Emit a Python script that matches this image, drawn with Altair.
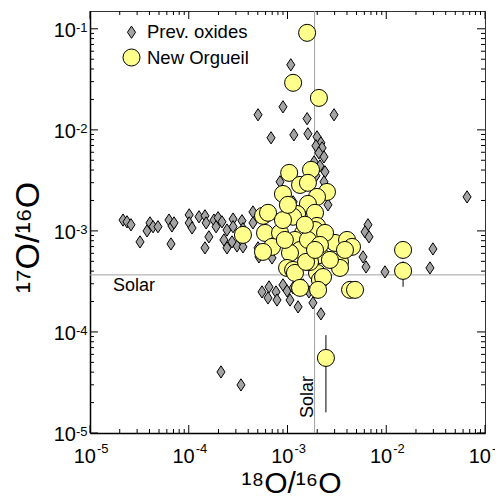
import altair as alt
import pandas as pd

# ---- Previous oxides (grey diamonds): 18O/16O and 17O/16O ----
ox_x = [2.16e-5, 2.37e-5, 2.60e-5, 3.21e-5, 3.78e-5, 4.05e-5, 4.35e-5, 4.88e-5, 6.31e-5, 6.76e-5,
        7.09e-5, 6.61e-5, 1.01e-4, 1.01e-4, 1.08e-4, 1.27e-4, 1.46e-4, 1.50e-4, 1.46e-4, 1.60e-4,
        1.80e-4, 1.98e-4, 2.17e-4, 2.27e-4, 2.44e-4, 2.44e-4, 2.81e-4, 2.81e-4, 3.08e-4, 3.46e-4,
        3.54e-4, 3.54e-4, 4.47e-4, 4.47e-4, 5.03e-4, 5.14e-4, 6.20e-4, 6.97e-4, 1.89e-4, 2.74e-4,
        8.4e-4, 1.14e-3, 2.57e-3,
        1.99e-3, 2.18e-3, 1.94e-3, 2.24e-3, 2.08e-3, 2.34e-3, 1.86e-3, 2.13e-3, 2.40e-3, 1.94e-3,
        2.34e-3, 2.24e-3,
        1.08e-3, 9.0e-4, 5.03e-4, 1.58e-3, 2.96e-3, 6.81e-4, 1.16e-3, 1.61e-3,
        6.53e-3, 6.10e-3, 6.69e-3, 5.82e-3, 6.24e-3, 9.71e-3, 2.97e-2, 2.77e-2, 6.58e-2,
        6.50e-4, 6.35e-4, 7.65e-4, 7.83e-4, 9.0e-4, 9.9e-4, 1.14e-3, 1.28e-3, 1.44e-3, 1.81e-3,
        2.18e-3, 2.12e-4, 3.38e-4, 5.52e-4, 1.65e-3, 1.06e-3]
ox_y = [1.28e-3, 1.23e-3, 1.15e-3, 7.78e-4, 1.00e-3, 1.20e-3, 1.10e-3, 1.10e-3, 1.28e-3, 1.12e-3,
        1.20e-3, 7.43e-4, 1.44e-3, 1.20e-3, 1.07e-3, 1.38e-3, 1.41e-3, 1.20e-3, 6.79e-4, 8.73e-4,
        1.28e-3, 1.35e-3, 1.23e-3, 8.14e-4, 1.02e-3, 6.79e-4, 1.31e-3, 1.10e-3, 7.10e-4, 1.26e-3,
        1.05e-3, 6.95e-4, 1.54e-3, 1.20e-3, 6.79e-4, 5.53e-4, 6.20e-4, 5.40e-4, 1.10e-3, 7.78e-4,
        3.06e-3, 1.94e-3, 1.81e-3,
        8.53e-3, 7.43e-3, 6.95e-3, 6.63e-3, 5.92e-3, 5.40e-3, 4.82e-3, 4.40e-3, 3.84e-3, 3.51e-3,
        3.06e-3, 2.27e-3,
        4.40e-2, 1.69e-2, 1.41e-2, 1.29e-2, 1.41e-2, 8.34e-3, 8.92e-3, 9.13e-3,
        1.15e-3, 9.77e-4, 8.73e-4, 5.53e-4, 4.40e-4, 3.93e-4, 6.63e-4, 4.30e-4, 2.17e-3,
        2.79e-4, 2.17e-4, 2.49e-4, 2.07e-4, 2.92e-4, 2.55e-4, 2.73e-4, 1.77e-4, 2.92e-4, 1.94e-4,
        1.51e-4, 4.02e-5, 2.99e-5, 2.49e-4, 2.49e-4, 2.07e-4]

# ---- New Orgueil grains (yellow circles) ----
org_x = [1.58e-3, 1.14e-3, 2.08e-3, 1.04e-3, 1.73e-3, 1.34e-3, 1.61e-3, 2.51e-3, 9.0e-4, 1.99e-3,
         1.61e-3, 1.25e-3, 1.14e-3, 1.90e-3, 5.65e-4, 6.35e-4, 3.54e-4, 5.92e-4, 8.4e-4, 1.44e-3,
         1.99e-3, 1.90e-3, 6.97e-4, 1.19e-3, 1.34e-3, 1.06e-3, 2.13e-3, 3.03e-3, 4.01e-3, 4.50e-3,
         3.40e-3, 5.65e-4, 9.9e-4, 1.14e-3, 1.19e-3, 1.99e-3, 2.13e-3, 2.29e-3, 3.40e-3, 4.30e-3,
         4.83e-3, 1.48e-2, 1.48e-2, 2.45e-3, 1.34e-3, 2.04e-3, 1.61e-3, 2.40e-3, 2.69e-3, 1.69e-3,
         9.0e-4, 2.13e-3, 1.50e-3, 1.01e-3, 3.82e-3, 1.54e-3, 1.90e-3, 9.4e-4]
org_y = [9.12e-2, 2.92e-2, 2.07e-2, 3.75e-3, 4.02e-3, 2.85e-3, 2.99e-3, 2.43e-3, 2.32e-3, 2.17e-3,
         1.85e-3, 1.47e-3, 1.38e-3, 1.51e-3, 1.41e-3, 1.51e-3, 9.13e-4, 9.55e-4, 9.55e-4, 9.55e-4,
         1.12e-3, 1.02e-3, 6.95e-4, 8.14e-4, 6.48e-4, 6.05e-4, 5.78e-4, 7.60e-4, 8.14e-4, 6.95e-4,
         4.93e-4, 6.20e-4, 4.30e-4, 4.11e-4, 3.84e-4, 3.84e-4, 3.27e-4, 3.50e-4, 4.30e-4, 2.61e-4,
         2.61e-4, 6.48e-4, 4.02e-4, 5.53e-5, 2.73e-4, 2.61e-4, 8.14e-4, 9.55e-4, 5.16e-4, 4.93e-4,
         1.28e-3, 7.27e-4, 1.15e-3, 1.81e-3, 6.48e-4, 4.93e-4, 6.48e-4, 8.14e-4]

# ---- error bars visible in the figure ----
eb_x = [2.45e-3, 1.48e-2]
eb_lo = [1.6e-5, 2.8e-4]
eb_hi = [9.3e-5, 5.0e-4]

# ---- solar reference values ----
solar_x = 1.88e-3
solar_y = 3.67e-4

series_names = ["Prev. oxides", "New Orgueil"]
decades = [1e-5, 1e-4, 1e-3, 1e-2, 1e-1]
tick_base = ["10", "10", "10", "10", "10"]
tick_exp = ["-5", "-4", "-3", "-2", "-1"]
minor = [m * d for d in [1e-5, 1e-4, 1e-3, 1e-2] for m in range(2, 10)]

W, H = 395, 422
FONT = "Liberation Sans"

xscale = alt.Scale(type="log", domain=[1e-5, 1e-1], nice=False)
yscale = alt.Scale(type="log", domain=[1e-5, 0.15], nice=False)

df = pd.DataFrame({
    "x": ox_x + org_x,
    "y": ox_y + org_y,
    "series": [series_names[0]] * len(ox_x) + [series_names[1]] * len(org_x),
})

diamond_path = "M0,-1L0.66,0L0,1L-0.66,0Z"

points = alt.Chart(df).mark_point(filled=True, opacity=1, stroke="black", strokeWidth=1).encode(
    x=alt.X("x:Q", scale=xscale,
            axis=alt.Axis(values=decades, labels=False, ticks=False, grid=False,
                          title="\u00b9\u2078O/\u00b9\u2076O", titlePadding=35, titleX=201,
                          titleFontSize=30)),
    y=alt.Y("y:Q", scale=yscale,
            axis=alt.Axis(values=decades, labels=False, ticks=False, grid=False,
                          title="\u00b9\u2077O/\u00b9\u2076O", titlePadding=45, titleY=226,
                          titleFontSize=34)),
    color=alt.Color("series:N", scale=alt.Scale(domain=series_names, range=["#a3a3a3", "#ffff8c"]),
                    legend=alt.Legend(title=None, orient="none", legendX=32, legendY=12,
                                      labelFontSize=18.5, labelFont=FONT, labelColor="black",
                                      symbolStrokeColor="black", symbolStrokeWidth=1,
                                      labelOffset=6, rowPadding=4)),
    shape=alt.Shape("series:N", scale=alt.Scale(domain=series_names, range=[diamond_path, "circle"])),
    size=alt.Size("series:N", scale=alt.Scale(domain=series_names, range=[150, 290])),
)

errbars = alt.Chart(pd.DataFrame({"x": eb_x, "lo": eb_lo, "hi": eb_hi})).mark_rule(
    color="black", strokeWidth=1).encode(
    x=alt.X("x:Q", scale=xscale), y=alt.Y("lo:Q", scale=yscale), y2="hi:Q")

vline = alt.Chart(pd.DataFrame({"x": [solar_x]})).mark_rule(color="#a0a0a0", strokeWidth=1).encode(
    x=alt.X("x:Q", scale=xscale))
hline = alt.Chart(pd.DataFrame({"y": [solar_y]})).mark_rule(color="#a0a0a0", strokeWidth=1).encode(
    y=alt.Y("y:Q", scale=yscale))

htext = alt.Chart(pd.DataFrame({"x": [1e-5], "y": [solar_y], "t": ["Solar"]})).mark_text(
    align="left", baseline="top", dx=23, dy=2, fontSize=18, font=FONT, color="black").encode(
    x=alt.X("x:Q", scale=xscale), y=alt.Y("y:Q", scale=yscale), text="t:N")
vtext = alt.Chart(pd.DataFrame({"x": [solar_x], "y": [1e-5], "t": ["Solar"]})).mark_text(
    align="left", baseline="alphabetic", angle=270, dx=15, dy=-2, fontSize=18, font=FONT,
    color="black").encode(
    x=alt.X("x:Q", scale=xscale), y=alt.Y("y:Q", scale=yscale), text="t:N")


def xticks(vals, y0, y1):
    return alt.Chart(pd.DataFrame({"v": vals})).mark_rule(color="black", strokeWidth=1).encode(
        x=alt.X("v:Q", scale=xscale), y=alt.value(y0), y2=alt.value(y1))


def yticks(vals, x0, x1):
    return alt.Chart(pd.DataFrame({"v": vals})).mark_rule(color="black", strokeWidth=1).encode(
        y=alt.Y("v:Q", scale=yscale), x=alt.value(x0), x2=alt.value(x1))


tick_layers = [
    xticks(decades, H, H - 8), xticks(minor, H, H - 4),
    xticks(decades, 0, 8), xticks(minor, 0, 4),
    yticks(decades, 0, 8), yticks(minor, 0, 4),
    yticks(decades, W, W - 8), yticks(minor, W, W - 4),
]

lab_df = pd.DataFrame({"v": decades, "b": tick_base, "e": tick_exp})

xlab_base = alt.Chart(lab_df).mark_text(
    align="right", baseline="alphabetic", dx=6, dy=30, fontSize=20, font=FONT, color="black"
).encode(x=alt.X("v:Q", scale=xscale), y=alt.value(H), text="b:N")
xlab_exp = alt.Chart(lab_df).mark_text(
    align="left", baseline="alphabetic", dx=7, dy=20, fontSize=13, font=FONT, color="black"
).encode(x=alt.X("v:Q", scale=xscale), y=alt.value(H), text="e:N")
ylab_base = alt.Chart(lab_df).mark_text(
    align="right", baseline="alphabetic", dx=-14, dy=8, fontSize=20, font=FONT, color="black"
).encode(y=alt.Y("v:Q", scale=yscale), x=alt.value(0), text="b:N")
ylab_exp = alt.Chart(lab_df).mark_text(
    align="left", baseline="alphabetic", dx=-14, dy=3, fontSize=13, font=FONT, color="black"
).encode(y=alt.Y("v:Q", scale=yscale), x=alt.value(0), text="e:N")

chart = alt.layer(
    vline, hline, *tick_layers, errbars, points, htext, vtext,
    xlab_base, xlab_exp, ylab_base, ylab_exp
).properties(
    width=W, height=H,
    autosize=alt.AutoSizeParams(type="none"),
    padding={"left": 82, "top": 3, "right": 10, "bottom": 70},
).configure_view(
    stroke="#333333", strokeWidth=1
).configure_axis(
    titleFont=FONT, titleFontWeight="normal", titleColor="black",
    domainColor="black", domainWidth=1.5,
)

chart.save("out.html", embed_options={"renderer": "svg", "actions": False})
